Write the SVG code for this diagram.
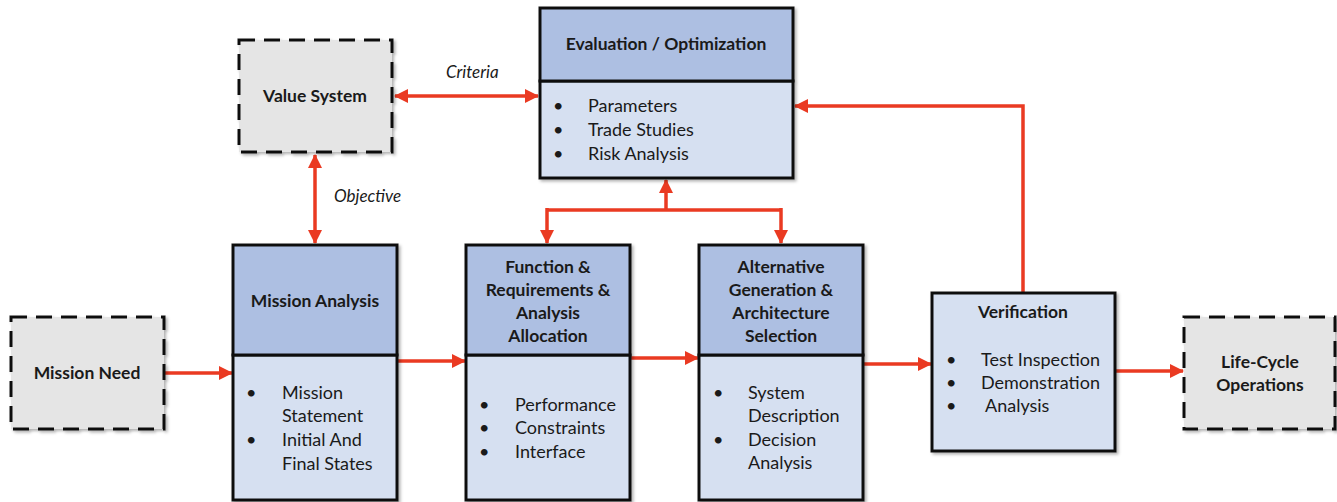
<svg xmlns="http://www.w3.org/2000/svg" width="1337" height="502" viewBox="0 0 1337 502">
<style>
.t{font-family:Lato,"Liberation Sans",sans-serif;font-size:18px;fill:#1a1a1a}
.b{font-weight:bold;font-size:17.5px}
.i{font-style:italic;font-size:17px}
.c{text-anchor:middle}
.hd{fill:#adbfe2;stroke:#111;stroke-width:3}
.bd{fill:#d6e0f1;stroke:#111;stroke-width:3}
.ds{fill:#e5e5e5;stroke:#111;stroke-width:3;stroke-dasharray:16 9}
.cn{fill:none;stroke:#ea3a22;stroke-width:3.5}
</style>
<defs>
<marker id="ah" markerUnits="userSpaceOnUse" markerWidth="14" markerHeight="14" refX="13" refY="7" orient="auto-start-reverse">
<path d="M0,0 L14,7 L0,14 z" fill="#ea3a22"/>
</marker>
<filter id="sh" x="-10%" y="-10%" width="120%" height="120%">
<feDropShadow dx="2" dy="2" stdDeviation="1.5" flood-color="#000" flood-opacity="0.3"/>
</filter>
</defs>
<rect width="1337" height="502" fill="#fff"/>
<g id="connectors">
<line class="cn" x1="395" y1="96" x2="538" y2="96" marker-start="url(#ah)" marker-end="url(#ah)"/>
<line class="cn" x1="315" y1="155" x2="315" y2="243" marker-start="url(#ah)" marker-end="url(#ah)"/>
<line class="cn" x1="666" y1="210" x2="666" y2="180" marker-end="url(#ah)"/>
<path class="cn" d="M547,210 H781"/>
<line class="cn" x1="547" y1="208" x2="547" y2="243" marker-end="url(#ah)"/>
<line class="cn" x1="781" y1="208" x2="781" y2="243" marker-end="url(#ah)"/>
<path class="cn" d="M1023,292 V106 H795" marker-end="url(#ah)"/>
<line class="cn" x1="165" y1="373" x2="232" y2="373" marker-end="url(#ah)"/>
<line class="cn" x1="398" y1="361" x2="465" y2="361" marker-end="url(#ah)"/>
<line class="cn" x1="631" y1="358" x2="698" y2="358" marker-end="url(#ah)"/>
<line class="cn" x1="864" y1="364" x2="931" y2="364" marker-end="url(#ah)"/>
<line class="cn" x1="1116" y1="371" x2="1183" y2="371" marker-end="url(#ah)"/>
<text class="t i" x="446" y="78">Criteria</text>
<text class="t i" x="334" y="202">Objective</text>
</g>
<g id="value-system">
<rect class="ds" x="239" y="40" width="153" height="112" filter="url(#sh)"/>
<text class="t b c" x="315" y="102">Value System</text>
</g>
<g id="evaluation">
<g filter="url(#sh)">
<rect class="bd" x="540" y="81" width="253" height="97"/>
<rect class="hd" x="540" y="8" width="253" height="73"/>
</g>
<text class="t b c" x="666" y="50">Evaluation / Optimization</text>
<text class="t" x="553" y="112">•</text><text class="t" x="588" y="112">Parameters</text>
<text class="t" x="553" y="136">•</text><text class="t" x="588" y="136">Trade Studies</text>
<text class="t" x="553" y="160">•</text><text class="t" x="588" y="160">Risk Analysis</text>
</g>
<g id="mission-need">
<rect class="ds" x="11" y="317" width="153" height="112" filter="url(#sh)"/>
<text class="t b c" x="87" y="379">Mission Need</text>
</g>
<g id="mission-analysis">
<g filter="url(#sh)">
<rect class="bd" x="233" y="355" width="164" height="145"/>
<rect class="hd" x="233" y="245" width="164" height="110"/>
</g>
<text class="t b c" x="315" y="307">Mission Analysis</text>
<text class="t" x="246" y="399">•</text><text class="t" x="282" y="399">Mission</text>
<text class="t" x="282" y="422">Statement</text>
<text class="t" x="246" y="446">•</text><text class="t" x="282" y="446">Initial And</text>
<text class="t" x="282" y="470">Final States</text>
</g>
<g id="function-requirements">
<g filter="url(#sh)">
<rect class="bd" x="466" y="355" width="164" height="145"/>
<rect class="hd" x="466" y="245" width="164" height="110"/>
</g>
<text class="t b c" x="548" y="273">Function &amp;</text>
<text class="t b c" x="548" y="296">Requirements &amp;</text>
<text class="t b c" x="548" y="319">Analysis</text>
<text class="t b c" x="548" y="342">Allocation</text>
<text class="t" x="479" y="411">•</text><text class="t" x="515" y="411">Performance</text>
<text class="t" x="479" y="434">•</text><text class="t" x="515" y="434">Constraints</text>
<text class="t" x="479" y="458">•</text><text class="t" x="515" y="458">Interface</text>
</g>
<g id="alternative-generation">
<g filter="url(#sh)">
<rect class="bd" x="699" y="355" width="164" height="145"/>
<rect class="hd" x="699" y="245" width="164" height="110"/>
</g>
<text class="t b c" x="781" y="273">Alternative</text>
<text class="t b c" x="781" y="296">Generation &amp;</text>
<text class="t b c" x="781" y="319">Architecture</text>
<text class="t b c" x="781" y="342">Selection</text>
<text class="t" x="713" y="399">•</text><text class="t" x="748" y="399">System</text>
<text class="t" x="748" y="422">Description</text>
<text class="t" x="713" y="446">•</text><text class="t" x="748" y="446">Decision</text>
<text class="t" x="748" y="469">Analysis</text>
</g>
<g id="verification">
<rect class="bd" x="932" y="293" width="183" height="158" filter="url(#sh)"/>
<text class="t b c" x="1023" y="318">Verification</text>
<text class="t" x="946" y="366">•</text><text class="t" x="981" y="366">Test Inspection</text>
<text class="t" x="946" y="389">•</text><text class="t" x="981" y="389">Demonstration</text>
<text class="t" x="946" y="412">•</text><text class="t" x="985" y="412">Analysis</text>
</g>
<g id="life-cycle">
<rect class="ds" x="1184" y="317" width="151" height="112" filter="url(#sh)"/>
<text class="t b c" x="1260" y="368">Life-Cycle</text>
<text class="t b c" x="1260" y="391">Operations</text>
</g>
</svg>
